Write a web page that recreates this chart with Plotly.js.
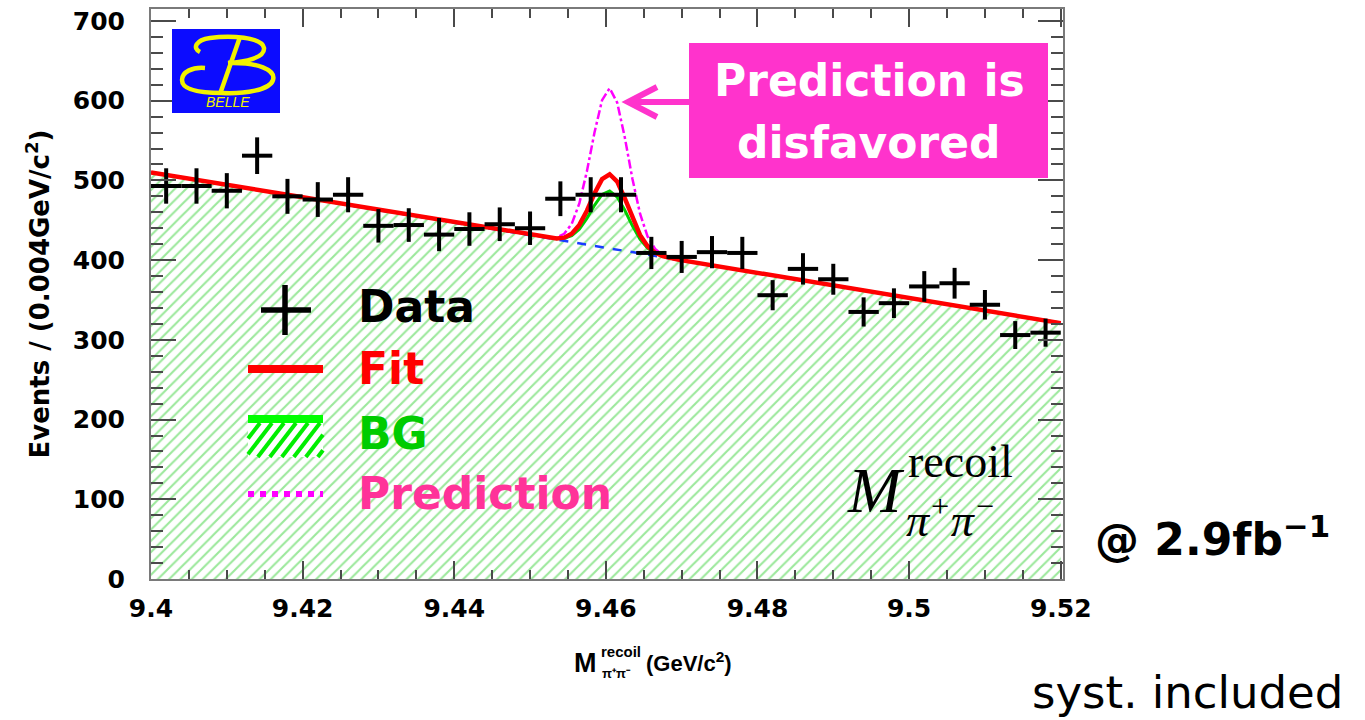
<!DOCTYPE html>
<html>
<head>
<meta charset="utf-8">
<script src="https://cdn.plot.ly/plotly-3.0.1.min.js"></script>
<style>html,body{margin:0;padding:0;background:#fff;}#chart{width:1365px;height:720px;}</style>
</head>
<body>
<div id="chart"></div>
<script>
// ---- data ----
const binCenters = [9.402,9.406,9.410,9.414,9.418,9.422,9.426,9.430,9.434,9.438,
                    9.442,9.446,9.450,9.454,9.458,9.462,9.466,9.470,9.474,9.478,
                    9.482,9.486,9.490,9.494,9.498,9.502,9.506,9.510,9.514,9.518];
const eventCounts = [493,493,487,531,480,476,482,443,444,432,
                     439,445,440,477,482,482,409,404,410,409,
                     356,389,376,335,346,367,371,344,306,309];
const countErrors = [22.2,22.2,22.1,23.0,21.9,21.8,22.0,21.0,21.1,20.8,
                     21.0,21.1,21.0,21.8,22.0,22.0,20.2,20.1,20.2,20.2,
                     18.9,19.7,19.4,18.3,18.6,19.2,19.3,18.5,17.5,17.6];
const binHalfWidth = 0.002;

const curveX = [9.4,9.4515,9.4525,9.4535,9.4545,9.4555,9.4565,9.4575,9.4585,9.4595,9.4605,
                9.4615,9.4625,9.4635,9.4645,9.4655,9.4665,9.4675,9.4685,9.4695,9.52];
const fitY  = [510,429.0,427.7,427.1,428.2,433.2,444.2,462.0,483.6,501.6,507.7,
               498.4,477.3,452.6,431.6,417.4,409.3,405.0,402.5,400.6,321];
const bgY   = [510,429.0,427.6,426.8,427.3,430.8,438.9,452.4,468.8,482.3,486.7,
               479.2,462.5,443.0,426.3,415.1,408.4,404.7,402.4,400.6,321];
const predY = [510,429.1,428.1,428.6,433.0,445.5,471.1,511.5,560.0,600.6,615.7,
               597.5,553.7,502.1,458.5,429.8,414.1,406.5,402.9,400.7,321];
const linBgX = [9.4, 9.52];
const linBgY = [510, 321];

const xTickVals = [9.40,9.42,9.44,9.46,9.48,9.50,9.52];
const xTickText = ['9.4','9.42','9.44','9.46','9.48','9.5','9.52'];
const yTickVals = [0,100,200,300,400,500,600,700];

// ---- geometry helpers (pixel -> paper) ----
const L=151, R=1063, T=9, B=579;
const px = x => (x-L)/(R-L);
const py = y => (B-y)/(B-T);

const BOLD = {family:'DejaVu Sans', weight:'bold'};

const traces = [
  {x:curveX, y:bgY, mode:'lines', line:{color:'#00cc00', width:3},
   fill:'tozeroy', fillcolor:'rgba(255,255,255,0)',
   fillpattern:{shape:'/', fgcolor:'#9be89b', bgcolor:'#ffffff', size:8, solidity:0.26},
   hoverinfo:'skip'},
  {x:linBgX, y:linBgY, mode:'lines', line:{color:'#1a3cff', width:2.5, dash:'dash'}, hoverinfo:'skip'},
  {x:curveX, y:predY, mode:'lines', line:{color:'#ff00ff', width:2.5, dash:'dashdot'}, hoverinfo:'skip'},
  {x:curveX, y:fitY, mode:'lines', line:{color:'#ff0000', width:4.5}, hoverinfo:'skip'},
  {x:binCenters, y:eventCounts, mode:'markers', marker:{size:2, color:'#000'},
   error_x:{type:'constant', value:binHalfWidth, thickness:4, width:0, color:'#000'},
   error_y:{type:'data', array:countErrors, thickness:4, width:0, color:'#000'}}
];

const shapes = [];
const annotations = [];
function line(x0,y0,x1,y1,color,width,dash){
  shapes.push({type:'line', xref:'paper', yref:'paper', x0:px(x0), y0:py(y0), x1:px(x1), y1:py(y1),
               line:{color:color, width:width, dash:dash||'solid'}});
}
function rect(x0,y0,x1,y1,fill){
  shapes.push({type:'rect', xref:'paper', yref:'paper', x0:px(x0), y0:py(y0), x1:px(x1), y1:py(y1),
               fillcolor:fill, line:{width:0}});
}
function pathPx(cmds,color,width){
  const s = cmds.map(c => {
    let out = c[0];
    for(let i=1;i<c.length;i+=2){ out += ' ' + px(c[i]) + ',' + py(c[i+1]); }
    return out;
  }).join(' ');
  shapes.push({type:'path', xref:'paper', yref:'paper', path:s,
               fillcolor:'rgba(0,0,0,0)', line:{color:color, width:width}});
}
function text(t,x,y,font,xa,ya){
  annotations.push({text:t, xref:'paper', yref:'paper', x:px(x), y:py(y), showarrow:false,
                    xanchor:xa||'left', yanchor:ya||'middle', font:font});
}

// Belle logo
rect(172,29,280,113,'#0c0cff');
const LOGO_Y = '#f2f200';
pathPx([['M',200,52],['C',192,48,196,40,210,38],['C',230,35,262,37,264,48],['C',265,58,245,62,228,63]],LOGO_Y,4.5);
pathPx([['M',228,63],['C',258,62,276,70,273,80],['C',270,90,245,94,222,93],['C',200,93,182,90,182,80],['C',182,72,192,67,205,68]],LOGO_Y,4.5);
pathPx([['M',240,37],['L',220,94]],LOGO_Y,4.5);
text('BELLE',228,102,{family:'Liberation Sans', size:14, color:LOGO_Y, style:'italic'},'center','middle');

// legend inside plot
line(261,310,311,310,'#000',5.5);
line(285,285,285,335,'#000',5.5);
text('Data',356,306,Object.assign({size:44,color:'#000'},BOLD));
line(248,369,323,369,'#ff0000',8);
text('Fit',356,368,Object.assign({size:44,color:'#ff0000'},BOLD));
rect(248,423,323,457,'#ffffff');
line(248,419,323,419,'#00ff00',8);
(function(){
  const y0=457, y1=423, k=0.77, h=y0-y1;
  for(let xb=248-h*k; xb<323; xb+=12){
    let sx=xb, sy=y0, ex=xb+h*k, ey=y1;
    if(sx<248){ sy = y0-(248-xb)/k; sx=248; }
    if(ex>323){ ey = y0-(323-xb)/k; ex=323; }
    if(sy<=ey) continue;
    line(sx,sy,ex,ey,'#00ee00',4);
  }
})();
text('BG',356,433,Object.assign({size:44,color:'#00cc00'},BOLD));
line(248,494,323,494,'#ff00ff',6,'dot');
text('Prediction',356,493,Object.assign({size:44,color:'#ff3399'},BOLD));

// callout box + arrow
rect(689,43,1048,178,'#ff33cc');
text('Prediction is',869,80,Object.assign({size:44,color:'#ffffff'},BOLD),'center','middle');
text('disfavored',869,143,Object.assign({size:44,color:'#ffffff'},BOLD),'center','middle');
line(628,102,689,102,'#ff33cc',6);
pathPx([['M',657,87],['L',628,102],['L',657,117]],'#ff33cc',6);

// serif variable label inside plot
text('M',876,490,{family:'Liberation Serif', size:64, color:'#000', style:'italic'},'center','middle');
text('recoil',906,461,{family:'Liberation Serif', size:46, color:'#000'},'left','middle');
text('π<sup>+</sup>π<sup>−</sup>',904,517,{family:'Liberation Serif', size:46, color:'#000', style:'italic'},'left','middle');

// right-side texts
text('@ 2.9fb<sup>−1</sup>',1093,536,Object.assign({size:44,color:'#000'},BOLD),'left','middle');
text('syst. included',1030,692,{family:'DejaVu Sans', size:45, color:'#000'},'left','middle');

// x-axis title (stacked super/subscript)
text('M',572,663,{family:'Liberation Sans', size:27, weight:'bold', color:'#000'},'left','middle');
text('recoil',599,651,{family:'Liberation Sans', size:15, weight:'bold', color:'#000'},'left','middle');
text('π⁺π⁻',600,673,{family:'Liberation Sans', size:13, weight:'bold', color:'#000'},'left','middle');
text('(GeV/c<sup>2</sup>)',644,662,{family:'Liberation Sans', size:22, weight:'bold', color:'#000'},'left','middle');

const axisCommon = {
  showgrid:false, zeroline:false, showline:true, linecolor:'#7a7a7a', linewidth:2,
  mirror:'ticks', ticks:'inside', tickcolor:'#4a4a4a', tickwidth:2,
  tickfont:{family:'DejaVu Sans', size:25, weight:'bold', color:'#000'}
};

const layout = {
  width:1365, height:720,
  margin:{l:L, r:1365-R, t:T, b:720-B, pad:0},
  paper_bgcolor:'#ffffff', plot_bgcolor:'#ffffff',
  showlegend:false,
  font:{family:'DejaVu Sans', color:'#000'},
  xaxis:Object.assign({}, axisCommon, {
    range:[9.4, 9.5203], tickmode:'array', tickvals:xTickVals, ticktext:xTickText,
    ticklen:18, ticklabelstandoff:6,
    minor:{tickmode:'linear', tick0:9.4, dtick:0.005, ticks:'inside', ticklen:9, tickcolor:'#4a4a4a', tickwidth:2}
  }),
  yaxis:Object.assign({}, axisCommon, {
    range:[0, 715], tickmode:'array', tickvals:yTickVals,
    ticklen:25, ticklabelstandoff:19,
    minor:{tickmode:'linear', tick0:0, dtick:20, ticks:'inside', ticklen:12, tickcolor:'#4a4a4a', tickwidth:2},
    title:{text:'Events / (0.004GeV/c<sup>2</sup>)', font:{family:'DejaVu Sans', size:26, weight:'bold', color:'#000'}, standoff:16}
  }),
  shapes:shapes,
  annotations:annotations
};

Plotly.newPlot('chart', traces, layout, {staticPlot:true, displayModeBar:false});
</script>
</body>
</html>
